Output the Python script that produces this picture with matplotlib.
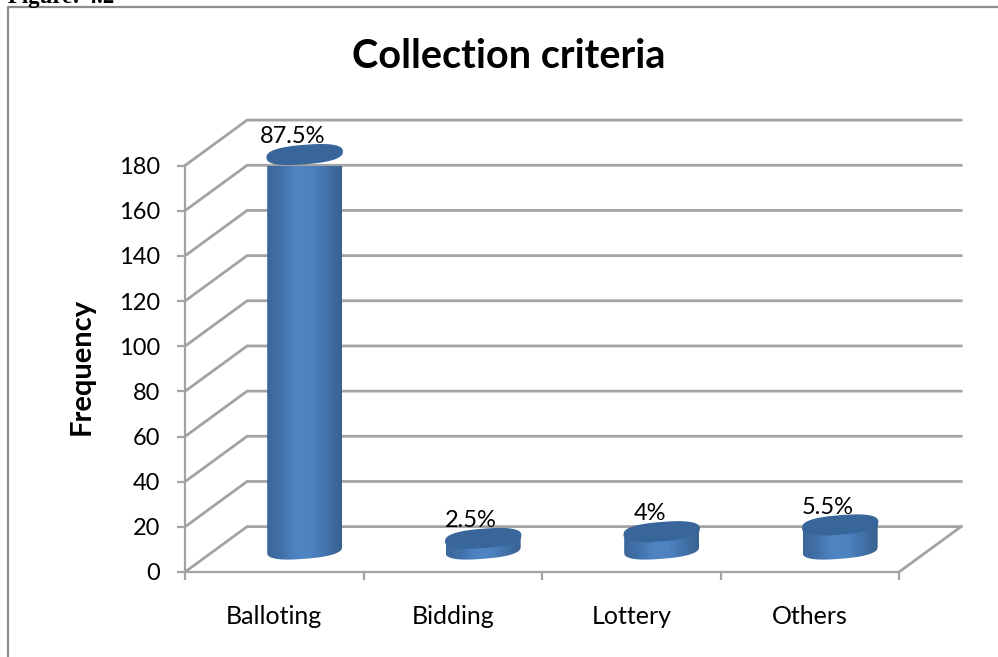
import matplotlib
matplotlib.use("Agg")
import matplotlib.pyplot as plt
import numpy as np
from matplotlib.path import Path
from matplotlib.patches import PathPatch
from matplotlib.colors import LinearSegmentedColormap

W, H = 998, 657

categories = ["Balloting", "Bidding", "Lottery", "Others"]
frequency = [175, 5, 8, 11]
percent_labels = ["87.5%", "2.5%", "4%", "5.5%"]
y_ticks = [0, 20, 40, 60, 80, 100, 120, 140, 160, 180]

# 3D look: how far the back wall sits from the front plane, in data units
DEPTH_X = 0.348
DEPTH_Y = 20.1
GRID = "#a3a3a3"

# the labels sit a little left of their cylinders
LABEL_SHIFT = -0.068

plt.rcParams["font.family"] = ["Lato", "DejaVu Sans"]

fig = plt.figure(figsize=(W / 100, H / 100), dpi=100)

# page frame and clipped caption above it
fig.add_artist(plt.Line2D([8 / W, 8 / W, 1], [0, 1 - 7 / H, 1 - 7 / H],
                          color="#8c8c8c", lw=1.6, transform=fig.transFigure))
fig.text(8 / W, 1 - 3 / H, "Figure: 4.2", family="Liberation Serif", weight="bold",
         fontsize=16.5, va="baseline", ha="left")

# axes is the front plane of the chart box
ax = fig.add_axes([185 / W, 1 - 572 / H, (899 - 185) / W, (572 - 165.5) / H])
ax.set_xlim(0, 4)
ax.set_ylim(0, 180)
ax.patch.set_visible(False)
for s in ["top", "right"]:
    ax.spines[s].set_visible(False)
for s in ["left", "bottom"]:
    ax.spines[s].set_color(GRID)
    ax.spines[s].set_linewidth(1.6)

ax.set_xticks(range(5))
ax.set_xticklabels([])
ax.set_yticks(y_ticks)
ax.tick_params(axis="x", length=5.8, width=1.6, color=GRID, direction="out")
ax.tick_params(axis="y", length=5.8, width=1.6, color=GRID, labelsize=17, pad=12)
ax.set_ylabel("Frequency", fontsize=21, fontweight="bold")
ax.yaxis.set_label_coords(-0.126, 0.505)

# wall and floor lines
for v in y_ticks:
    ax.plot([0, DEPTH_X, 4 + DEPTH_X], [v, v + DEPTH_Y, v + DEPTH_Y],
            color=GRID, lw=2, clip_on=False, zorder=1, solid_joinstyle="miter")
ax.plot([4, 4 + DEPTH_X], [0, DEPTH_Y], color=GRID, lw=2, clip_on=False, zorder=1)

for i, name in enumerate(categories):
    ax.text(i + 0.5, -19.8, name, ha="center", va="center", fontsize=18, clip_on=False)

side_cmap = LinearSegmentedColormap.from_list(
    "side", ["#3a6699", "#4272ab", "#5085c3", "#4e82c0", "#4272aa", "#38628f"])
gradient = np.linspace(0, 1, 256).reshape(1, -1)

HALF_W = 0.21      # category units
HALF_H = 4.0       # value units
TILT = 1.3
ROUND = 0.8        # below 1 makes the rim fuller than a plain ellipse
t = np.linspace(0, 2 * np.pi, 181)


def rim(cx, cy, angles):
    c = np.sign(np.cos(angles)) * np.abs(np.cos(angles)) ** ROUND
    s = np.sign(np.sin(angles)) * np.abs(np.sin(angles)) ** ROUND
    return cx + HALF_W * c, cy + HALF_H * s + TILT * c


for i, (value, label) in enumerate(zip(frequency, percent_labels)):
    cx = i + 0.5 + 0.49 * DEPTH_X
    base = 0.49 * DEPTH_Y
    top = base + value

    # cylinder wall: lower half of the base, back up over the top rim
    lower = np.linspace(np.pi, 2 * np.pi, 60)
    bx, by = rim(cx, base, lower)
    tx, ty = rim(cx, top, lower[::-1])
    verts = np.column_stack([np.r_[bx, tx], np.r_[by, ty]])
    body = PathPatch(Path(np.vstack([verts, verts[0]]), closed=True),
                     transform=ax.transData, fc="none", ec="none")
    ax.add_patch(body)
    im = ax.imshow(gradient, extent=[cx - HALF_W, cx + HALF_W, base - 8, top + 8],
                   cmap=side_cmap, aspect="auto", zorder=3)
    im.set_clip_path(body)

    # top face
    ex, ey = rim(cx, top, t)
    ax.fill(ex, ey, color="#38669b", zorder=4, clip_on=False)

    ax.text(cx + LABEL_SHIFT, top + 5, label, ha="center", va="baseline",
            fontsize=17, clip_on=False, zorder=5)

ax.set_xlim(0, 4)
ax.set_ylim(0, 180)

fig.text(509 / W, 1 - 56 / H, "Collection criteria", ha="center", va="center",
         fontsize=28.5, fontweight="bold")

fig.savefig("out.png", dpi=100)
